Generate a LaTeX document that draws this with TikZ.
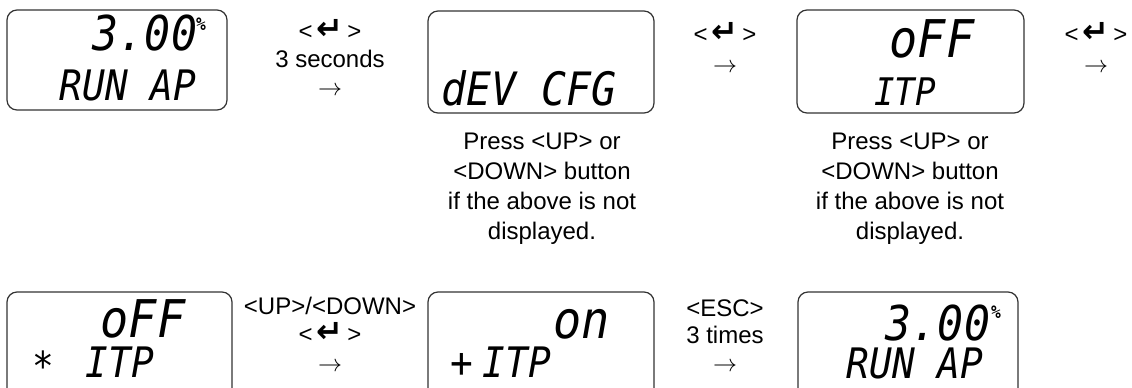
\documentclass[tikz,border=0pt]{standalone}
\usepackage{fontspec}
\setmainfont{Liberation Sans}
\newfontfamily\symfont{DejaVu Sans}
\newfontfamily\lcdfont[FakeStretch=0.9]{DejaVu Sans Mono}
\newcommand{\enterkey}{{\symfont\bfseries\fontsize{16}{15}\selectfont ↵}}
\newcommand{\enterlabel}{<\,\enterkey\,>}

\begin{document}
\begin{tikzpicture}[x=0.5pt, y=-0.5pt, every node/.style={font=\fontsize{12}{15}\selectfont, inner sep=0pt},
  lcdbox/.style={draw=black!80, line width=0.6pt, rounded corners=5pt},
  lcdbig/.style={anchor=base, text depth=0pt, font=\lcdfont\itshape\fontsize{24}{24}\selectfont},
  lcdsmall/.style={anchor=base, text depth=0pt, font=\lcdfont\itshape\fontsize{21}{21}\selectfont},
  lcdpct/.style={font=\lcdfont\bfseries\fontsize{9}{9}\selectfont},
  keylabel/.style={align=center}]
  \useasboundingbox (0,0) rectangle (1132,387);
  \draw[lcdbox] (7,10) rectangle (227,110);
  \node[lcdbig] (runval) at (145,50) {3.00};
  \node[lcdpct] (runpct) at (201,24) {\%};
  \node[lcdsmall] (runtxt) at (128,100) {RUN AP};
  \node (keyA) at (330,29) {\enterlabel};
  \node (secA) at (330,59) {3 seconds};
  \node (arrA) at (330,91) {$\rightarrow$};
  \draw[lcdbox] (428,11) rectangle (654,113);
  \node[lcdsmall, font=\lcdfont\itshape\fontsize{23}{23}\selectfont] (cfgtxt) at (529,105) {dEV CFG};
  \node[keylabel] (hintA) at (542,189) {Press <UP> or\\<DOWN> button\\if the above is not\\displayed.};
  \node (keyB) at (725,32) {\enterlabel};
  \node (arrB) at (725,68) {$\rightarrow$};
  \draw[lcdbox] (797,10) rectangle (1024,113);
  \node[lcdbig, font=\lcdfont\itshape\fontsize{26}{26}\selectfont] (itpval) at (932,57) {oFF};
  \node[lcdsmall, font=\lcdfont\itshape\fontsize{19}{19}\selectfont] (itptxt) at (905,105) {ITP};
  \node[keylabel] (hintB) at (910,189) {Press <UP> or\\<DOWN> button\\if the above is not\\displayed.};
  \node (keyC) at (1096,32) {\enterlabel};
  \node (arrC) at (1096,68) {$\rightarrow$};
  \draw[lcdbox] (7,292) rectangle (232,400);
  \node[lcdbig, font=\lcdfont\itshape\fontsize{26}{26}\selectfont] (offval) at (143,337) {oFF};
  \node[lcdsmall, font=\lcdfont\fontsize{20}{20}\selectfont] (offmark) at (43,380) {*};
  \node[lcdsmall] (offtxt) at (120,377) {ITP};
  \node (updown) at (330,306) {<UP>/<DOWN>};
  \node (keyD) at (330,332) {\enterlabel};
  \node (arrD) at (330,367) {$\rightarrow$};
  \draw[lcdbox] (428,292) rectangle (654,400);
  \node[lcdbig, font=\lcdfont\itshape\fontsize{26}{26}\selectfont] (onval) at (582,338) {on};
  \node[lcdsmall, anchor=center] (onmark) at (462,365) {+};
  \node[lcdsmall] (ontxt) at (517,377) {ITP};
  \node (esc) at (725,308) {<ESC>};
  \node (times) at (725,335) {3 times};
  \node (arrE) at (725,367) {$\rightarrow$};
  \draw[lcdbox] (798,292) rectangle (1018,400);
  \node[lcdbig] (backval) at (938,340) {3.00};
  \node[lcdpct] (backpct) at (996,312) {\%};
  \node[lcdsmall] (backtxt) at (915,378) {RUN AP};
\end{tikzpicture}
\end{document}
